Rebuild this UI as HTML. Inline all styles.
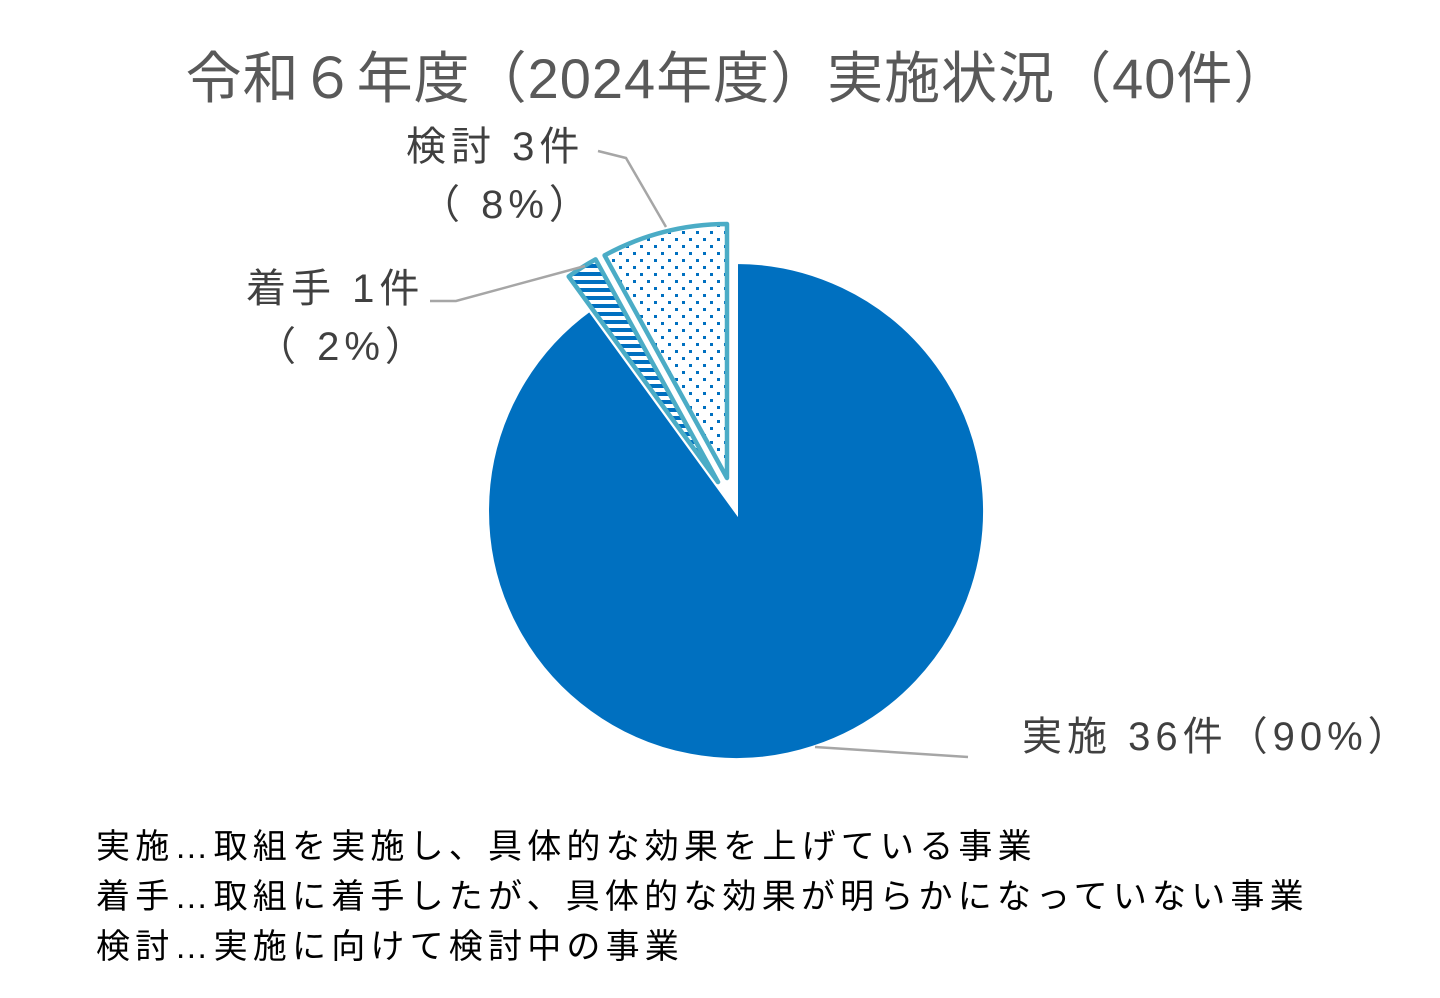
<!DOCTYPE html>
<html><head><meta charset="utf-8"><style>
body{margin:0;background:#fff;}
svg{display:block;font-family:"Liberation Sans","Noto Sans CJK JP",sans-serif;}
</style></head><body>
<svg width="1440" height="998" viewBox="0 0 1440 998" xmlns="http://www.w3.org/2000/svg">
<defs>
<pattern id="stripe" width="10" height="8" patternUnits="userSpaceOnUse">
<rect width="10" height="8" fill="#fff"/><rect width="10" height="4" fill="#0070c0"/>
</pattern>
<pattern id="dots" width="14" height="14" patternUnits="userSpaceOnUse" x="3" y="0">
<rect width="14" height="14" fill="#fff"/><rect x="0" y="0" width="3" height="3" fill="#0070c0"/><rect x="7" y="7" width="3" height="3" fill="#0070c0"/>
</pattern>
</defs>
<text x="738" y="98" font-size="56" fill="#595959" text-anchor="middle" letter-spacing="1">令和６年度（2024年度）実施状況（40件）</text>
<path d="M736,511 L736,262 A249,249 0 1,1 589.6,309.6 Z" fill="#0070c0" stroke="#fff" stroke-width="4"/>
<path d="M727,478 L727,224 A254,254 0 0,0 604.6,255.4 Z" fill="url(#dots)" stroke="#4bacc6" stroke-width="4.5" stroke-linejoin="round"/>
<path d="M718,482 L595.6,259.4 A254,254 0 0,0 568.7,276.5 Z" fill="url(#stripe)" stroke="#4bacc6" stroke-width="4.5" stroke-linejoin="round"/>
<polyline points="598,151 626,158 666,227" fill="none" stroke="#a6a6a6" stroke-width="2.5"/>
<polyline points="430,301 456,301 585,266" fill="none" stroke="#a6a6a6" stroke-width="2.5"/>
<polyline points="815,747 968,757" fill="none" stroke="#a6a6a6" stroke-width="2.5"/>
<g font-size="40" fill="#404040" letter-spacing="5">
<text x="406" y="160">検討 3件</text>
<text x="420" y="218">（ 8%）</text>
<text x="246" y="302">着手 1件</text>
<text x="256" y="360">（ 2%）</text>
<text x="1022" y="750">実施 36件（90%）</text>
</g>
<g font-size="34" fill="#000" letter-spacing="5.2">
<text x="96" y="858">実施…取組を実施し、具体的な効果を上げている事業</text>
<text x="96" y="908">着手…取組に着手したが、具体的な効果が明らかになっていない事業</text>
<text x="96" y="958">検討…実施に向けて検討中の事業</text>
</g>
</svg>
</body></html>
